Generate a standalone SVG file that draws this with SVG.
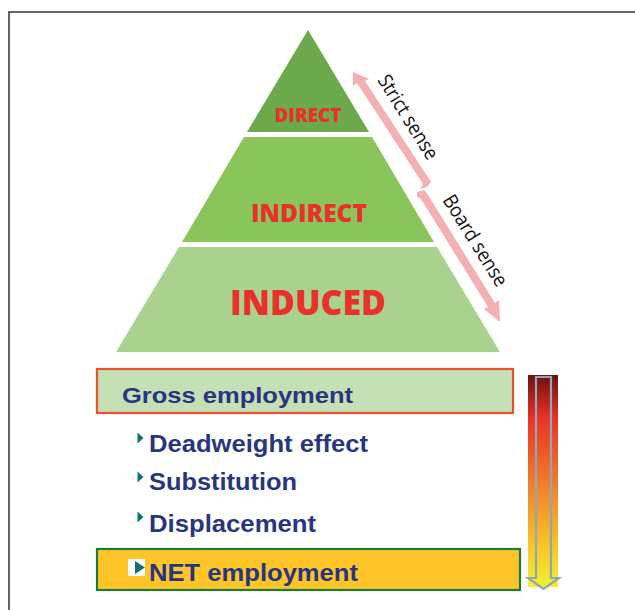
<svg xmlns="http://www.w3.org/2000/svg" width="635" height="610" viewBox="0 0 635 610">
<defs>
<style>
.tier{font-family:"Open Sans","DejaVu Sans",sans-serif;font-weight:800;fill:#E8312A;text-anchor:middle}
.side{font-family:"Open Sans","DejaVu Sans",sans-serif;font-size:20px;fill:#111}
.blue{font-family:"Liberation Sans",Arial,sans-serif;font-weight:bold;fill:#283580}
.bul{fill:#11736C}
.parrow{fill:#F4B0B3}
</style>
<linearGradient id="grad" x1="0" y1="0" x2="0" y2="1">
<stop offset="0" stop-color="#6E0E10"/>
<stop offset="0.2" stop-color="#E83226"/>
<stop offset="0.5" stop-color="#F07A2E"/>
<stop offset="0.8" stop-color="#F8C428"/>
<stop offset="1" stop-color="#F2F032"/>
</linearGradient>
</defs>
<rect width="635" height="610" fill="#fff"/>
<rect x="9" y="12" width="640" height="610" fill="none" stroke="#333" stroke-width="1.5"/>

<g id="tier-direct">
<polygon points="308,30 369,132 247,132" fill="#6CA84C"/>
<text class="tier" x="308" y="122" font-size="19" textLength="67" lengthAdjust="spacingAndGlyphs">DIRECT</text>
</g>
<g id="tier-indirect">
<polygon points="244,137 372,137 434,242 182,242" fill="#8AC55B"/>
<text class="tier" x="309" y="222" font-size="24" textLength="116" lengthAdjust="spacingAndGlyphs">INDIRECT</text>
</g>
<g id="tier-induced">
<polygon points="179,247 437,247 500,352 116,352" fill="#A9D28F"/>
<text class="tier" x="308" y="315" font-size="35" textLength="156" lengthAdjust="spacingAndGlyphs">INDUCED</text>
</g>

<g id="connectors">
<g id="arrow-strict">
<polygon class="parrow" points="353,72 369,79 365,81 431,182 427,187 420,189 423,184 357,83 353,86"/>
</g>
<g id="arrow-board">
<polygon class="parrow" points="417,192 424,190 428,195 495,303 499,300 500,322 484,309 488,307 421,199 417,197"/>
</g>
</g>

<g id="label-strict">
<text class="side" transform="translate(377,80) rotate(58)" textLength="96" lengthAdjust="spacingAndGlyphs">Strict sense</text>
</g>
<g id="label-board">
<text class="side" transform="translate(442,200) rotate(58)" textLength="104" lengthAdjust="spacingAndGlyphs">Board sense</text>
</g>

<g id="gross">
<rect x="97" y="369" width="416" height="44" fill="#C5E0B4" stroke="#F0502E" stroke-width="2.2"/>
<text class="blue" x="122" y="403" font-size="22" textLength="231" lengthAdjust="spacingAndGlyphs">Gross employment</text>
</g>

<g id="deadweight">
<polygon class="bul" points="137.5,432.5 143.5,438 137.5,443.5"/>
<text class="blue" x="149" y="452" font-size="23" textLength="219" lengthAdjust="spacingAndGlyphs">Deadweight effect</text>
</g>
<g id="substitution">
<polygon class="bul" points="137.5,471.5 143.5,477 137.5,482.5"/>
<text class="blue" x="149" y="490" font-size="23" textLength="148" lengthAdjust="spacingAndGlyphs">Substitution</text>
</g>
<g id="displacement">
<polygon class="bul" points="137.5,511.5 143.5,517 137.5,522.5"/>
<text class="blue" x="149" y="532" font-size="23" textLength="167" lengthAdjust="spacingAndGlyphs">Displacement</text>
</g>

<g id="net">
<rect x="97" y="549" width="423" height="41" fill="#FDC52A" stroke="#1E7B34" stroke-width="2.2"/>
<rect x="128" y="559" width="17" height="17" fill="#fff"/>
<polygon class="bul" points="135,561 145,567.5 135,574"/>
<text class="blue" x="149" y="581" font-size="23" textLength="209" lengthAdjust="spacingAndGlyphs">NET employment</text>
</g>

<g id="gradient-arrow">
<rect x="528" y="375" width="30" height="212" fill="url(#grad)"/>
<polygon points="536,377 551,377 551,578 559,578 543.5,589 528,578 536,578" fill="none" stroke="#8FA8B2" stroke-width="2.2" stroke-linejoin="miter"/>
</g>
</svg>
